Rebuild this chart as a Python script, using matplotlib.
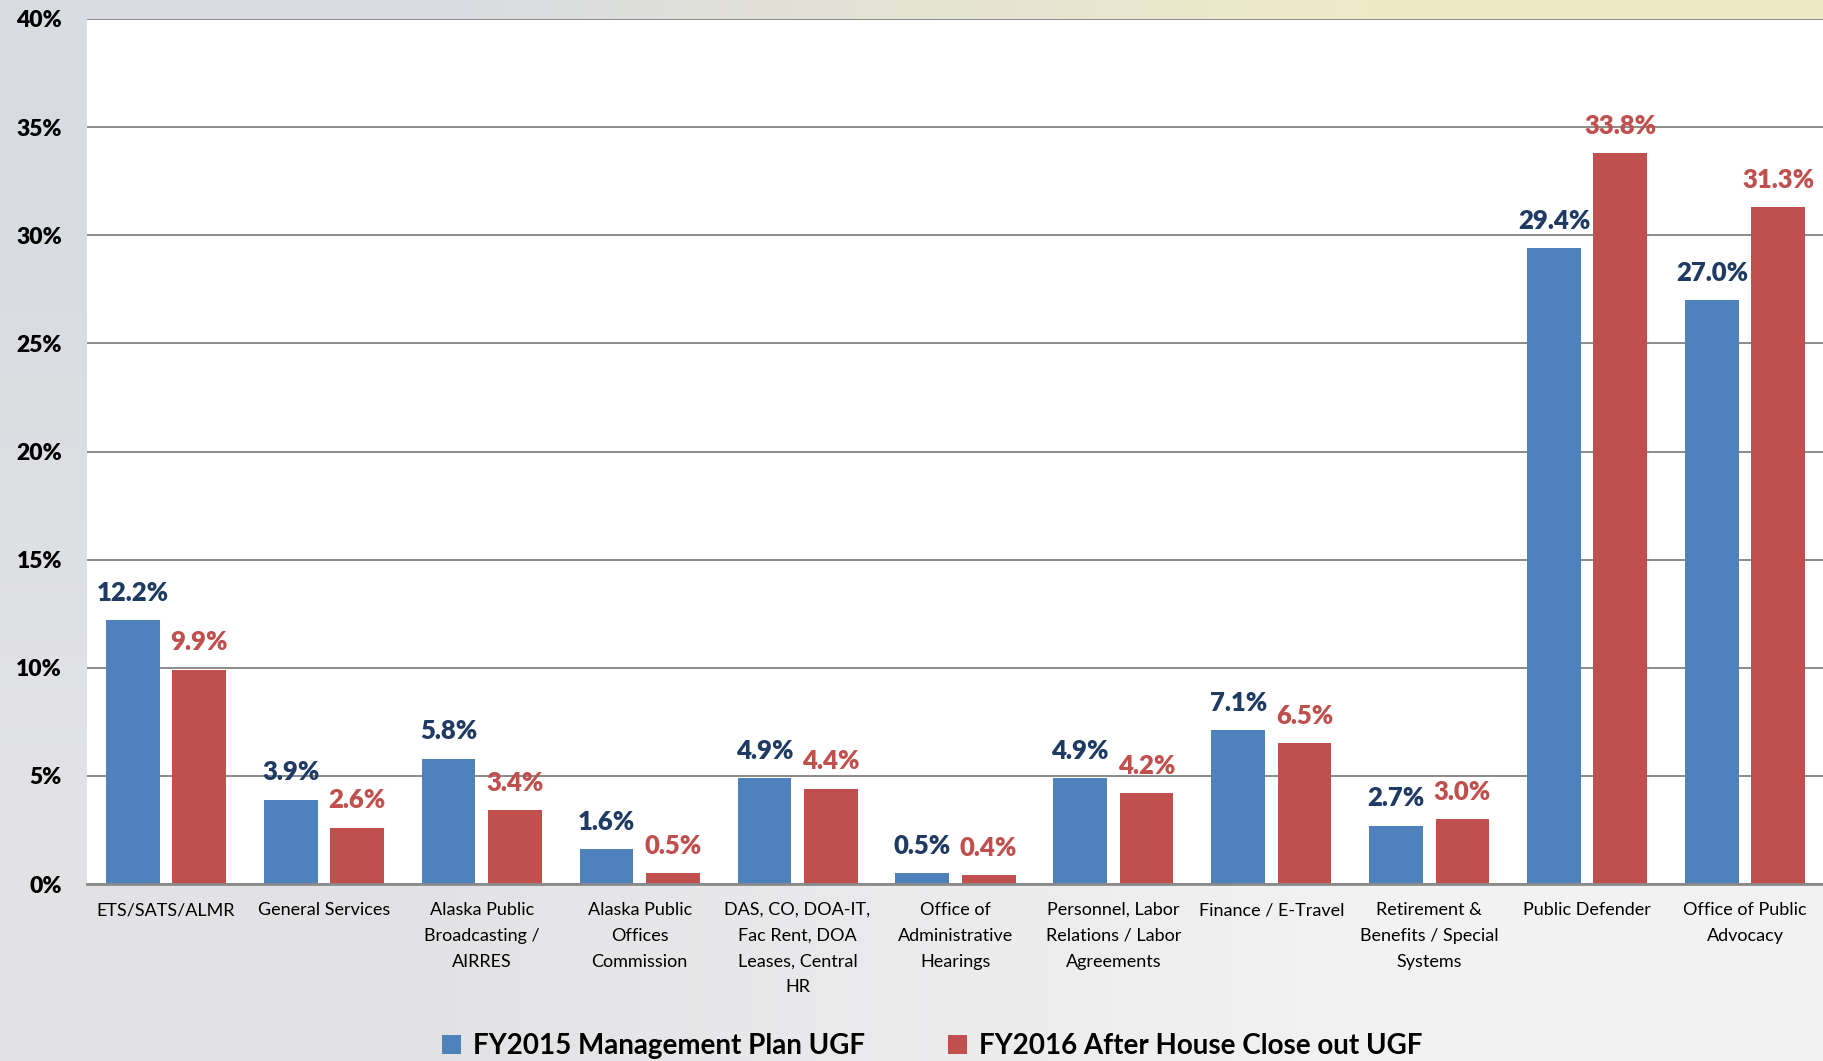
"""Grouped bar chart: share of UGF by component, FY2015 vs FY2016."""

import matplotlib
matplotlib.use("Agg")
import matplotlib.pyplot as plt
import numpy as np
from matplotlib.patches import Patch

CATEGORIES = [
    "ETS/SATS/ALMR",
    "General Services",
    "Alaska Public\nBroadcasting /\nAIRRES",
    "Alaska Public\nOffices\nCommission",
    "DAS, CO, DOA-IT,\nFac Rent, DOA\nLeases, Central\nHR",
    "Office of\nAdministrative\nHearings",
    "Personnel, Labor\nRelations / Labor\nAgreements",
    "Finance / E-Travel",
    "Retirement &\nBenefits / Special\nSystems",
    "Public Defender",
    "Office of Public\nAdvocacy",
]
FY2015 = [12.2, 3.9, 5.8, 1.6, 4.9, 0.5, 4.9, 7.1, 2.7, 29.4, 27.0]
FY2016 = [9.9, 2.6, 3.4, 0.5, 4.4, 0.4, 4.2, 6.5, 3.0, 33.8, 31.3]
SERIES_NAMES = ["FY2015 Management Plan UGF", "FY2016 After House Close out UGF"]
Y_TICKS = [0, 5, 10, 15, 20, 25, 30, 35, 40]

BLUE = "#4F81BD"
RED = "#C0504D"
BLUE_TXT = "#1F3B63"
RED_TXT = "#C0504D"

plt.rcParams["font.family"] = ["Lato", "DejaVu Sans"]

fig = plt.figure(figsize=(18.24, 10.61), dpi=100)

# soft slide-style background: grey on the left, warm tint top right
bg = fig.add_axes([0, 0, 1, 1], zorder=-5)
corners = np.array([
    [[0.85, 0.86, 0.88], [0.94, 0.92, 0.78]],
    [[0.89, 0.89, 0.90], [0.95, 0.95, 0.95]],
])
bg.imshow(corners, extent=[0, 1, 0, 1], aspect="auto", interpolation="bilinear")
bg.set_axis_off()

ax = fig.add_axes([0.0477, 0.1668, 0.9523, 0.8153])
ax.set_facecolor("white")

x = np.arange(len(CATEGORIES))
w = 0.34
off = 0.21
b1 = ax.bar(x - off, FY2015, w, color=BLUE, zorder=3)
b2 = ax.bar(x + off, FY2016, w, color=RED, zorder=3)

for bars, vals, col in ((b1, FY2015, BLUE_TXT), (b2, FY2016, RED_TXT)):
    for bar, v in zip(bars, vals):
        ax.annotate(f"{v:.1f}%", (bar.get_x() + bar.get_width() / 2, v),
                    xytext=(0, 14), textcoords="offset points",
                    ha="center", va="baseline", fontsize=18.5,
                    fontweight="heavy", color=col, zorder=4)

ax.set_xlim(-0.5, len(CATEGORIES) - 0.5)
ax.set_ylim(0, 40)
ax.set_yticks(Y_TICKS)
ax.set_yticklabels([f"{t}%" for t in Y_TICKS], fontsize=16.5, fontweight="heavy")
ax.set_xticks(x)
ax.set_xticklabels(CATEGORIES, fontsize=13, linespacing=1.75, va="top")
ax.tick_params(axis="both", length=0)
ax.tick_params(axis="y", pad=18)
ax.tick_params(axis="x", pad=13)

ax.grid(axis="y", color="#8a8a8a", linewidth=1.4, zorder=0)
for s in ("top", "right", "left"):
    ax.spines[s].set_visible(False)
ax.spines["bottom"].set_color("#8a8a8a")
ax.spines["bottom"].set_linewidth(2)
ax.spines["bottom"].set_zorder(5)

handles = [Patch(facecolor=BLUE, label=SERIES_NAMES[0]),
           Patch(facecolor=RED, label=SERIES_NAMES[1])]
fig.legend(handles=handles, loc="center", bbox_to_anchor=(0.511, 0.014),
           ncol=2, frameon=False, prop={"size": 20, "weight": "bold"},
           handlelength=0.7, handleheight=0.7, handletextpad=0.4,
           columnspacing=3.0)

fig.savefig("out.png", dpi=100)
plt.close(fig)
